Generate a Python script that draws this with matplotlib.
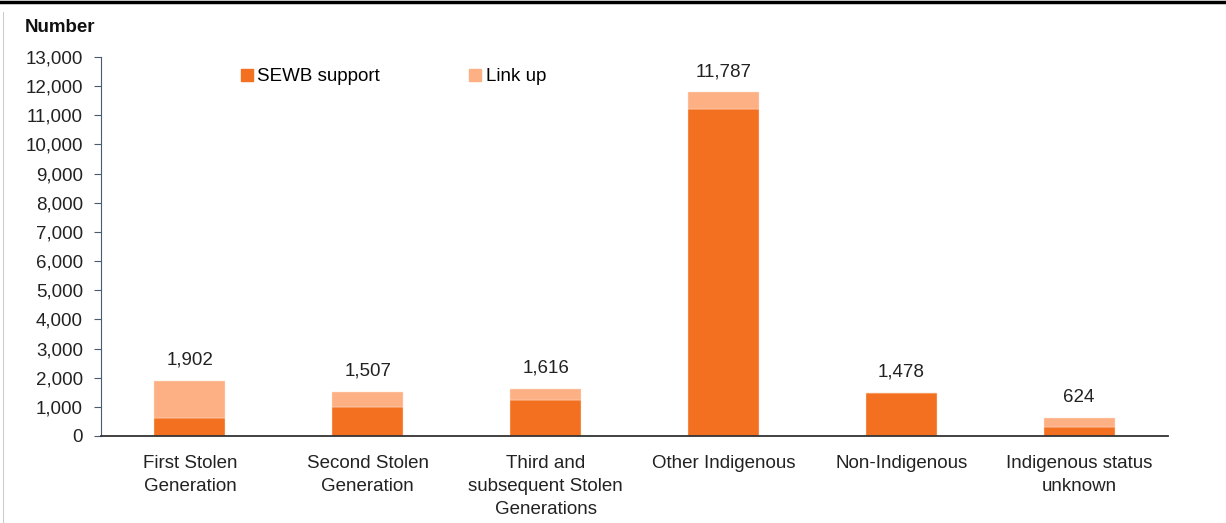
import numpy as np
import matplotlib.pyplot as plt
from matplotlib.lines import Line2D
from matplotlib.ticker import FuncFormatter

plt.rcParams['font.family'] = ['Liberation Sans', 'DejaVu Sans']

categories = ['First Stolen\nGeneration', 'Second Stolen\nGeneration',
              'Third and\nsubsequent Stolen\nGenerations', 'Other Indigenous',
              'Non-Indigenous', 'Indigenous status\nunknown']
sewb_support = [630, 1010, 1235, 11220, 1460, 320]
link_up = [1272, 497, 381, 567, 18, 304]
totals = [1902, 1507, 1616, 11787, 1478, 624]

c_sewb = '#F37021'
c_link = '#FDB084'
fs = 13.5

fig = plt.figure(figsize=(12.26, 5.23), dpi=100)
ax = fig.add_axes([101/1226, 1 - 436/523, (1168-101)/1226, (436-57)/523])

x = np.arange(len(categories))
ax.bar(x, sewb_support, width=0.4, color=c_sewb, edgecolor='#fde3d3', linewidth=0.3, label='SEWB support')
ax.bar(x, link_up, width=0.4, bottom=sewb_support, color=c_link, edgecolor='#fde3d3', linewidth=0.3, label='Link up')

for xi, t in zip(x, totals):
    ax.text(xi, t + 420, f'{t:,}', ha='center', va='bottom', fontsize=fs, color='#222222')

ax.set_xlim(-0.5, 5.5)
ax.set_ylim(0, 13000)
ax.set_yticks(np.arange(0, 13001, 1000))
ax.yaxis.set_major_formatter(FuncFormatter(lambda v, p: f'{int(v):,}'))
ax.set_xticks(x)
ax.set_xticklabels(categories, fontsize=fs, color='#222222', linespacing=1.45)
ax.tick_params(axis='x', length=0, pad=14)
ax.tick_params(axis='y', labelsize=fs, labelcolor='#222222', length=5, color='#4a5a70', pad=8)

for s in ['top', 'right']:
    ax.spines[s].set_visible(False)
ax.spines['left'].set_color('#4a5a70')
ax.spines['bottom'].set_color('#333333')
ax.spines['bottom'].set_linewidth(1.3)

handles = [Line2D([], [], marker='s', linestyle='', markersize=9, color=c_sewb),
           Line2D([], [], marker='s', linestyle='', markersize=9, color=c_link)]
ax.legend(handles, ['SEWB support', 'Link up'], loc='upper left', bbox_to_anchor=(0.112, 1.015),
          ncol=2, frameon=False, fontsize=fs, handletextpad=0.05, columnspacing=4.6,
          handlelength=1.0)

fig.text(25/1226, 1 - 27/523, 'Number', fontsize=fs, fontweight='bold', va='center', ha='left', color='#111111')

# border of the original frame
fig.add_artist(Line2D([0, 1], [1 - 1.5/523, 1 - 1.5/523], color='black', linewidth=2.5, transform=fig.transFigure))
fig.add_artist(Line2D([3/1226, 3/1226], [0, 1 - 12/523], color='#cccccc', linewidth=0.8, transform=fig.transFigure))

fig.savefig('out.png', dpi=100)
